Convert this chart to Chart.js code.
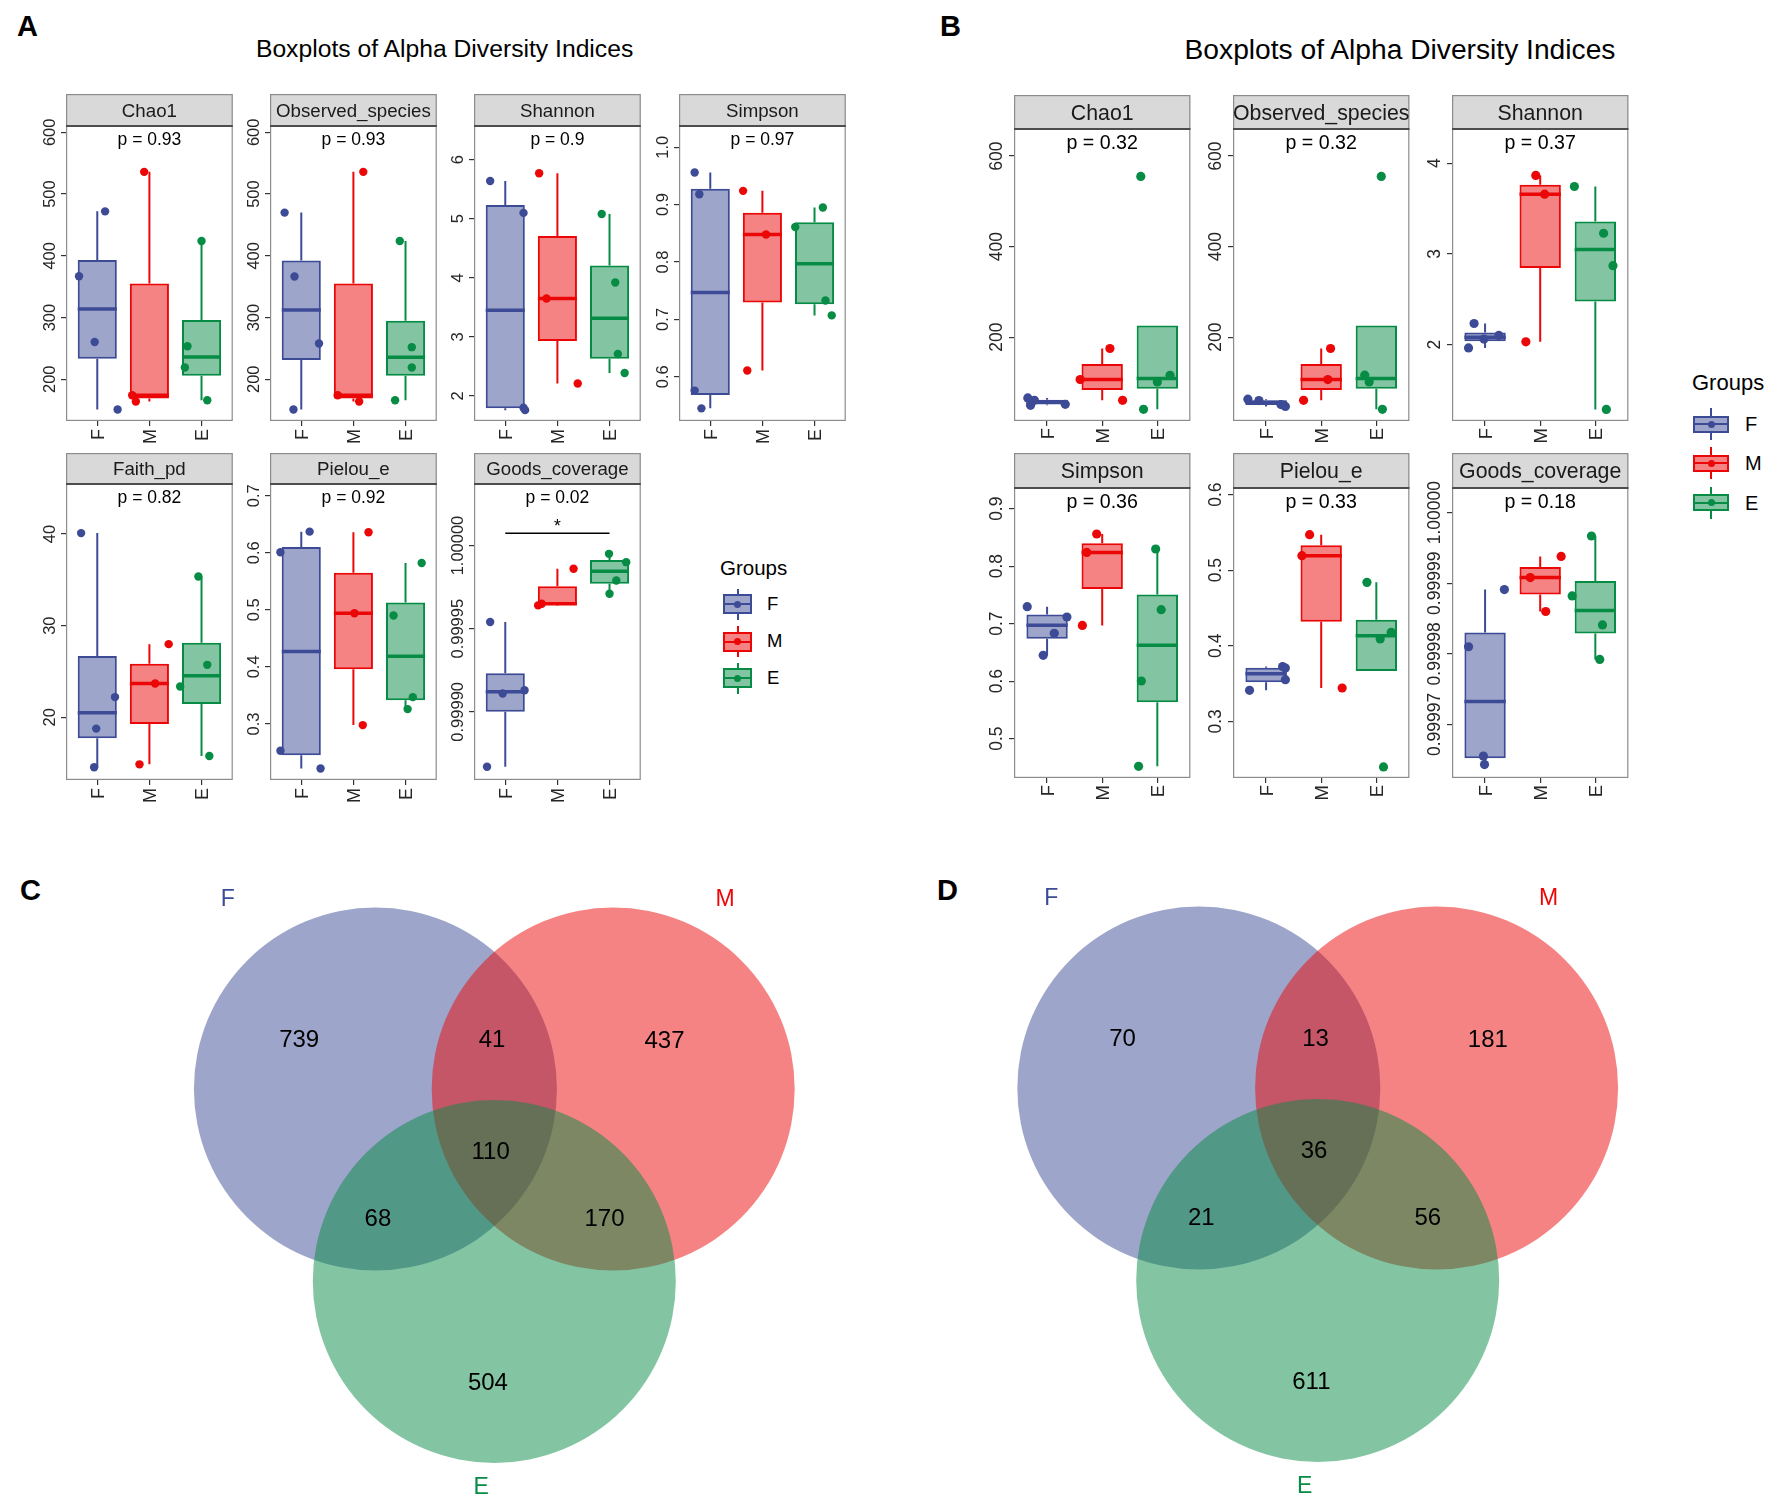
<!DOCTYPE html>
<html>
<head>
<meta charset="utf-8">
<title>Alpha diversity boxplots and Venn diagrams</title>
<script src="https://cdn.jsdelivr.net/npm/chart.js@4.4.0/dist/chart.umd.min.js"></script>
<style>
  html, body { margin: 0; padding: 0; background: #fff; }
  #page { position: relative; width: 1772px; height: 1504px; overflow: hidden; background: #fff;
          font-family: 'Liberation Sans', Arial, Helvetica, sans-serif; }
  #page canvas { position: absolute; }
  .txt { position: absolute; white-space: nowrap; }
  .key { position: absolute; box-sizing: border-box; }
</style>
</head>
<body>
<div id="page"></div>
<script>
const FONT = "'Liberation Sans', Arial, Helvetica, sans-serif";

// ---------- data ----------
const groups = ['F', 'M', 'E'];

// A
const indicesA = ['Chao1', 'Observed_species', 'Shannon', 'Simpson', 'Faith_pd', 'Pielou_e', 'Goods_coverage'];
const pValuesA = [0.93, 0.93, 0.9, 0.97, 0.82, 0.92, 0.02];

const chao1A = [[367, 472, 260.5, 151], [536, 174, 164], [424, 253.5, 219, 166]];
const chao1AJitter = [[-0.35, 0.15, -0.05, 0.39], [-0.10, -0.33, -0.26], [0.0, -0.27, -0.32, 0.11]];
const chao1ATicks = ['200', '300', '400', '500', '600'];

const observedA = [[470, 366.5, 258, 151], [536, 174, 164], [424, 252, 219, 166]];
const observedAJitter = [[-0.32, -0.13, 0.34, -0.15], [0.19, -0.30, 0.11], [-0.11, 0.12, 0.12, -0.20]];
const observedATicks = ['200', '300', '400', '500', '600'];

const shannonA = [[5.64, 5.10, 1.80, 1.76], [5.77, 3.65, 2.21], [5.08, 3.92, 2.71, 2.39]];
const shannonAJitter = [[-0.29, 0.35, 0.35, 0.38], [-0.35, -0.21, 0.39], [-0.15, 0.11, 0.16, 0.29]];
const shannonATicks = ['2', '3', '4', '5', '6'];

const simpsonA = [[0.956, 0.918, 0.576, 0.545], [0.924, 0.848, 0.611], [0.895, 0.861, 0.733, 0.707]];
const simpsonAJitter = [[-0.30, -0.21, -0.30, -0.17], [-0.37, 0.07, -0.29], [0.16, -0.37, 0.21, 0.33]];
const simpsonATicks = ['0.6', '0.7', '0.8', '0.9', '1.0'];

const faithA = [[40.1, 22.2, 18.76, 14.54], [27.98, 23.68, 14.86], [35.37, 25.72, 23.35, 15.77]];
const faithAJitter = [[-0.31, 0.34, -0.02, -0.06], [0.37, 0.11, -0.19], [-0.06, 0.11, -0.41, 0.15]];
const faithATicks = ['20', '30', '40'];

const pielouA = [[0.637, 0.601, 0.253, 0.222], [0.636, 0.494, 0.298], [0.582, 0.490, 0.347, 0.326]];
const pielouAJitter = [[0.16, -0.40, -0.40, 0.37], [0.29, 0.02, 0.18], [0.31, -0.23, 0.14, 0.04]];
const pielouATicks = ['0.3', '0.4', '0.5', '0.6', '0.7'];

const goodsA = [[0.999954, 0.999913, 0.999911, 0.999867], [0.999986, 0.999965, 0.999964], [0.999995, 0.999990, 0.999979, 0.999971]];
const goodsAJitter = [[-0.29, 0.37, -0.05, -0.35], [0.31, -0.30, -0.37], [-0.01, 0.32, 0.13, 0.0]];
const goodsATicks = ['0.99990', '0.99995', '1.00000'];
const goodsASignifLabel = '*';
const goodsASignifPair = [1, 3];
const goodsASignifY = 1.0000074;

// B
const indicesB = ['Chao1', 'Observed_species', 'Shannon', 'Simpson', 'Pielou_e', 'Goods_coverage'];
const pValuesB = [0.32, 0.32, 0.37, 0.36, 0.33, 0.18];

const chao1B = [[65.7, 60.5, 51.7, 49.4], [175, 106.3, 60.5], [555, 115.9, 101, 40.6]];
const chao1BJitter = [[-0.35, -0.23, 0.33, -0.30], [0.14, -0.40, 0.37], [-0.30, 0.23, 0.0, -0.25]];
const chao1BTicks = ['200', '400', '600'];

const observedB = [[63, 60, 51, 47], [175, 106.3, 60.5], [555, 116, 101, 40.6]];
const observedBJitter = [[-0.33, -0.13, 0.27, 0.35], [0.17, 0.12, -0.32], [0.09, -0.21, -0.13, 0.11]];
const observedBTicks = ['200', '400', '600'];

const shannonB = [[2.232, 2.10, 2.06, 1.963], [3.864, 3.657, 2.03], [3.742, 3.227, 2.869, 1.285]];
const shannonBJitter = [[-0.20, 0.25, -0.02, -0.30], [-0.08, 0.08, -0.26], [-0.38, 0.15, 0.32, 0.20]];
const shannonBTicks = ['2', '3', '4'];

const simpsonB = [[0.7296, 0.7116, 0.6832, 0.645], [0.856, 0.824, 0.697], [0.8299, 0.7243, 0.6003, 0.4519]];
const simpsonBJitter = [[-0.36, 0.36, 0.13, -0.07], [-0.10, -0.28, -0.36], [-0.03, 0.07, -0.29, -0.34]];
const simpsonBTicks = ['0.5', '0.6', '0.7', '0.8', '0.9'];

const pielouB = [[0.3725, 0.3706, 0.3551, 0.341], [0.547, 0.5192, 0.3441], [0.4839, 0.4178, 0.409, 0.2396]];
const pielouBJitter = [[0.30, 0.35, 0.35, -0.30], [-0.21, -0.35, 0.38], [-0.17, 0.27, 0.07, 0.13]];
const pielouBTicks = ['0.3', '0.4', '0.5', '0.6'];

const goodsB = [[0.9999891, 0.999981, 0.9999655, 0.9999643], [0.9999938, 0.9999908, 0.999986], [0.9999967, 0.9999882, 0.9999841, 0.9999792]];
const goodsBJitter = [[0.35, -0.30, -0.03, -0.01], [0.38, -0.18, 0.10], [-0.07, -0.42, 0.13, 0.08]];
const goodsBTicks = ['0.99997', '0.99998', '0.99999', '1.00000'];

// C and D: region counts in order F only, F&M, M only, F&M&E, F&E, M&E, E only
const vennSets = ['F', 'M', 'E'];
const vennCountsC = [739, 41, 437, 110, 68, 170, 504];
const vennCountsD = [70, 13, 181, 36, 21, 56, 611];

// ---------- style / layout ----------
const groupColors = ['#3d4b96', '#eb0707', '#078c45'];
const groupFills = ['rgba(61,75,150,0.5)', 'rgba(235,7,7,0.5)', 'rgba(7,140,69,0.5)'];

const Y_AXIS_W = 32, X_AXIS_H = 30;
const layoutA = { cols: [66, 270, 474, 679], width: 169,
  rows: [{ top: 94, strip: 32, plot: 295 }, { top: 453, strip: 31, plot: 296 }],
  stripFont: 18.7, pFont: 17.5, pOffset: 18.5, tickFont: 16.5, xFont: 18, tickGap: 6, xGap: 3, pointR: 4.2 };
const layoutB = { cols: [1014, 1233, 1452], width: 179,
  rows: [{ top: 95, strip: 34, plot: 292 }, { top: 453, strip: 35, plot: 290 }],
  stripFont: 21.3, pFont: 19.6, pOffset: 19.5, tickFont: 17.5, xFont: 18.5, tickGap: 7, xGap: 2, pointR: 4.6 };

const facetsA = [
  { name: indicesA[0], p: pValuesA[0], values: chao1A, jitter: chao1AJitter, ticks: chao1ATicks, range: [132.4, 610.3], row: 0, col: 0 },
  { name: indicesA[1], p: pValuesA[1], values: observedA, jitter: observedAJitter, ticks: observedATicks, range: [132.4, 610.3], row: 0, col: 1 },
  { name: indicesA[2], p: pValuesA[2], values: shannonA, jitter: shannonAJitter, ticks: shannonATicks, range: [1.576, 6.571], row: 0, col: 2 },
  { name: indicesA[3], p: pValuesA[3], values: simpsonA, jitter: simpsonAJitter, ticks: simpsonATicks, range: [0.523, 1.037], row: 0, col: 3 },
  { name: indicesA[4], p: pValuesA[4], values: faithA, jitter: faithAJitter, ticks: faithATicks, range: [13.15, 45.46], row: 1, col: 0 },
  { name: indicesA[5], p: pValuesA[5], values: pielouA, jitter: pielouAJitter, ticks: pielouATicks, range: [0.2018, 0.7205], row: 1, col: 1 },
  { name: indicesA[6], p: pValuesA[6], values: goodsA, jitter: goodsAJitter, ticks: goodsATicks, range: [0.999859, 1.000037], row: 1, col: 2,
    signif: { label: goodsASignifLabel, pair: goodsASignifPair, y: goodsASignifY } }
];
const facetsB = [
  { name: indicesB[0], p: pValuesB[0], values: chao1B, jitter: chao1BJitter, ticks: chao1BTicks, range: [14.8, 659.8], row: 0, col: 0 },
  { name: indicesB[1], p: pValuesB[1], values: observedB, jitter: observedBJitter, ticks: observedBTicks, range: [14.8, 659.8], row: 0, col: 1 },
  { name: indicesB[2], p: pValuesB[2], values: shannonB, jitter: shannonBJitter, ticks: shannonBTicks, range: [1.157, 4.376], row: 0, col: 2 },
  { name: indicesB[3], p: pValuesB[3], values: simpsonB, jitter: simpsonBJitter, ticks: simpsonBTicks, range: [0.4316, 0.936], row: 1, col: 0 },
  { name: indicesB[4], p: pValuesB[4], values: pielouB, jitter: pielouBJitter, ticks: pielouBTicks, range: [0.225, 0.6088], row: 1, col: 1 },
  { name: indicesB[5], p: pValuesB[5], values: goodsB, jitter: goodsBJitter, ticks: goodsBTicks, range: [0.9999624, 1.0000035], row: 1, col: 2 }
];

// venn geometry in units of the circle radius (y up), origin between F and M centres
const vennUnit = 181.5;
const vennCenters = [[-0.655, 0], [0.655, 0], [0, -1.06]];
const vennRegionPos = [[-1.075, 0.276], [-0.012, 0.276], [0.9375, 0.271], [-0.02, -0.339], [-0.641, -0.709], [0.607, -0.709], [-0.035, -1.612]];
const vennSetPos = [[-1.468, 1.055], [1.272, 1.055], [-0.072, -2.187]];
const vennPanels = [
  { counts: vennCountsC, left: 0, top: 860, width: 886, height: 644, ox: 494.3, oy: 229 },
  { counts: vennCountsD, left: 886, top: 860, width: 886, height: 644, ox: 431.7, oy: 228 }
];

const page = document.getElementById('page');

// ---------- helpers ----------
function makeCanvas(left, top, w, h) {
  const cv = document.createElement('canvas');
  cv.width = w; cv.height = h;
  cv.style.left = left + 'px'; cv.style.top = top + 'px';
  cv.style.width = w + 'px'; cv.style.height = h + 'px';
  page.appendChild(cv);
  return cv;
}

function addText(str, x, baseline, size, opt = {}) {
  const d = document.createElement('div');
  d.className = 'txt';
  d.textContent = str;
  d.style.fontSize = size + 'px';
  d.style.lineHeight = size + 'px';
  d.style.top = (baseline - 0.8465 * size) + 'px';
  d.style.left = x + 'px';
  if (opt.center) d.style.transform = 'translateX(-50%)';
  if (opt.bold) d.style.fontWeight = 'bold';
  d.style.color = opt.color || '#000';
  page.appendChild(d);
  return d;
}

function addRect(x, y, w, h, bg) {
  const d = document.createElement('div');
  d.className = 'key';
  d.style.left = x + 'px'; d.style.top = y + 'px';
  d.style.width = w + 'px'; d.style.height = h + 'px';
  d.style.background = bg;
  page.appendChild(d);
  return d;
}

// quantile type 7 (R default)
function quantile(sorted, p) {
  const h = (sorted.length - 1) * p;
  const lo = Math.floor(h), hi = Math.min(lo + 1, sorted.length - 1);
  return sorted[lo] + (h - lo) * (sorted[hi] - sorted[lo]);
}

function boxStats(vals) {
  const s = [...vals].sort((a, b) => a - b);
  const q1 = quantile(s, 0.25), med = quantile(s, 0.5), q3 = quantile(s, 0.75);
  const iqr = q3 - q1;
  const inside = s.filter(v => v >= q1 - 1.5 * iqr && v <= q3 + 1.5 * iqr);
  return { q1, med, q3, lo: Math.min(inside[0], q1), hi: Math.max(inside[inside.length - 1], q3) };
}

function boxDatasets(values, jitter, pl) {
  const sets = [];
  values.forEach((vals, g) => {
    const x = g + 1, st = boxStats(vals);
    // whiskers
    sets.push({ type: 'line', data: [{ x, y: st.hi }, { x, y: st.q3 }, { x, y: null }, { x, y: st.q1 }, { x, y: st.lo }],
      borderColor: groupColors[g], borderWidth: 2, pointRadius: 0, spanGaps: false, order: 4 });
    // box
    sets.push({ type: 'bar', data: [{ x, y: [st.q1, st.q3] }], backgroundColor: groupFills[g], borderColor: groupColors[g],
      borderWidth: 2, borderSkipped: false, grouped: false, categoryPercentage: 1, barPercentage: 0.75, order: 3 });
    // median
    sets.push({ type: 'line', data: [{ x: x - 0.375, y: st.med }, { x: x + 0.375, y: st.med }],
      borderColor: groupColors[g], borderWidth: 3.5, pointRadius: 0, order: 2 });
    // jittered samples
    sets.push({ type: 'scatter', data: vals.map((v, i) => ({ x: x + jitter[g][i], y: v })),
      backgroundColor: groupColors[g], borderWidth: 0, pointRadius: pl.pointR, order: 1 });
  });
  return sets;
}

function drawFacetDecor(chart, pl, f) {
  const { ctx, chartArea: a } = chart;
  const xs = chart.scales.x, ys = chart.scales.y;
  const sh = pl.rows[f.row].strip;
  const w = a.right - a.left, h = a.bottom - a.top;
  ctx.save();
  // strip + panel border
  ctx.fillStyle = '#d9d9d9';
  ctx.fillRect(a.left, a.top - sh, w, sh);
  ctx.strokeStyle = '#8c8c8c';
  ctx.lineWidth = 1.2;
  ctx.strokeRect(a.left + 0.6, a.top - sh + 0.6, w - 1.2, sh - 0.6);
  ctx.strokeRect(a.left + 0.6, a.top, w - 1.2, h - 0.6);
  ctx.strokeStyle = '#4d4d4d';
  ctx.lineWidth = 2;
  ctx.beginPath(); ctx.moveTo(a.left, a.top); ctx.lineTo(a.right, a.top); ctx.stroke();

  ctx.textAlign = 'center';
  ctx.textBaseline = 'alphabetic';
  ctx.fillStyle = '#1a1a1a';
  ctx.font = `${pl.stripFont}px ${FONT}`;
  ctx.fillText(f.name, (a.left + a.right) / 2, a.top - sh / 2 + 0.358 * pl.stripFont);

  ctx.fillStyle = '#000';
  ctx.font = `${pl.pFont}px ${FONT}`;
  ctx.fillText('p = ' + f.p, xs.getPixelForValue(2), a.top + pl.pOffset);

  // tick labels, rotated 90 degrees
  ctx.fillStyle = '#262626';
  ctx.font = `${pl.tickFont}px ${FONT}`;
  const shift = 0.358 * pl.tickFont;
  ys.ticks.forEach((t, i) => {
    ctx.save();
    ctx.translate(a.left - 5 - pl.tickGap - shift, ys.getPixelForValue(t.value));
    ctx.rotate(-Math.PI / 2);
    ctx.textAlign = 'center';
    ctx.fillText(f.ticks[i], 0, shift);
    ctx.restore();
  });
  ctx.font = `${pl.xFont}px ${FONT}`;
  const xShift = 0.358 * pl.xFont;
  xs.ticks.forEach((t, i) => {
    ctx.save();
    ctx.translate(xs.getPixelForValue(t.value), a.bottom + 5 + pl.xGap);
    ctx.rotate(-Math.PI / 2);
    ctx.textAlign = 'right';
    ctx.fillText(groups[i], 0, xShift);
    ctx.restore();
  });

  if (f.signif) {
    const y = ys.getPixelForValue(f.signif.y);
    ctx.strokeStyle = '#000';
    ctx.lineWidth = 1.6;
    ctx.beginPath();
    ctx.moveTo(xs.getPixelForValue(f.signif.pair[0]), y);
    ctx.lineTo(xs.getPixelForValue(f.signif.pair[1]), y);
    ctx.stroke();
    ctx.fillStyle = '#000';
    ctx.font = `${pl.pFont}px ${FONT}`;
    ctx.textAlign = 'center';
    ctx.fillText(f.signif.label, xs.getPixelForValue((f.signif.pair[0] + f.signif.pair[1]) / 2), y - 1);
  }
  ctx.restore();
}

function createFacet(pl, f) {
  const row = pl.rows[f.row];
  const left = pl.cols[f.col];
  const cw = Y_AXIS_W + pl.width + 2;
  const ch = row.strip + row.plot + X_AXIS_H;
  const cv = makeCanvas(left - Y_AXIS_W, row.top, cw, ch);
  const tickValues = f.ticks.map(Number);
  const tickStyle = { drawOnChartArea: false, offset: false, tickLength: 5, color: '#333333', lineWidth: 1.2 };
  new Chart(cv, {
    type: 'bar',
    data: { datasets: boxDatasets(f.values, f.jitter, pl) },
    options: {
      responsive: false, animation: false, events: [],
      layout: { padding: { top: row.strip, right: 2, left: 0, bottom: 0 } },
      plugins: { legend: { display: false }, tooltip: { enabled: false } },
      scales: {
        x: { type: 'linear', min: 0.4, max: 3.6, offset: false,
             afterBuildTicks: s => { s.ticks = groups.map((g, i) => ({ value: i + 1 })); },
             afterFit: s => { s.height = X_AXIS_H; },
             ticks: { display: false, autoSkip: false },
             grid: tickStyle, border: { display: false } },
        y: { type: 'linear', min: f.range[0], max: f.range[1], beginAtZero: false,
             afterBuildTicks: s => { s.ticks = tickValues.map(v => ({ value: v })); },
             afterFit: s => { s.width = Y_AXIS_W; },
             ticks: { display: false },
             grid: tickStyle, border: { display: false } }
      }
    },
    plugins: [{ id: 'facetDecor', afterDraw: chart => drawFacetDecor(chart, pl, f) }]
  });
}

function createVenn(vp) {
  const cv = makeCanvas(vp.left, vp.top, vp.width, vp.height);
  const u = vennUnit;
  const unitPx = ctx => {
    const xs = ctx.chart.scales.x;
    return Math.abs(xs.getPixelForValue(1) - xs.getPixelForValue(0));
  };
  new Chart(cv, {
    type: 'scatter',
    data: {
      datasets: vennSets.map((s, i) => ({
        label: s,
        data: [{ x: vennCenters[i][0], y: vennCenters[i][1] }],
        backgroundColor: groupFills[i], borderWidth: 0,
        pointRadius: unitPx, pointHoverRadius: unitPx,
        order: 3 - i
      }))
    },
    options: {
      responsive: false, animation: false, events: [],
      layout: { padding: 0 },
      plugins: { legend: { display: false }, tooltip: { enabled: false } },
      scales: {
        x: { type: 'linear', display: false, min: -vp.ox / u, max: (vp.width - vp.ox) / u },
        y: { type: 'linear', display: false, min: -(vp.height - vp.oy) / u, max: vp.oy / u }
      }
    },
    plugins: [{
      id: 'vennText',
      afterDatasetsDraw(chart) {
        const { ctx } = chart;
        const xs = chart.scales.x, ys = chart.scales.y;
        ctx.save();
        ctx.textAlign = 'center';
        ctx.textBaseline = 'alphabetic';
        ctx.font = `24px ${FONT}`;
        ctx.fillStyle = '#000';
        vp.counts.forEach((c, i) => {
          ctx.fillText(String(c), xs.getPixelForValue(vennRegionPos[i][0]), ys.getPixelForValue(vennRegionPos[i][1]) + 0.358 * 24);
        });
        ctx.font = `23px ${FONT}`;
        vennSets.forEach((s, i) => {
          ctx.fillStyle = groupColors[i];
          ctx.fillText(s, xs.getPixelForValue(vennSetPos[i][0]), ys.getPixelForValue(vennSetPos[i][1]) + 0.358 * 23);
        });
        ctx.restore();
      }
    }]
  });
}

function addLegend(lg) {
  addText('Groups', lg.titleX, lg.titleBase, lg.titleFont);
  groups.forEach((g, i) => {
    const cy = lg.keyCenters[i], col = groupColors[i];
    const cx = lg.x + lg.keyW / 2;
    addRect(cx - 1, cy - lg.whisker, 2, lg.whisker - lg.keyH / 2, col);
    addRect(cx - 1, cy + lg.keyH / 2, 2, lg.whisker - lg.keyH / 2, col);
    const box = addRect(lg.x, cy - lg.keyH / 2, lg.keyW, lg.keyH, groupFills[i]);
    box.style.border = `2px solid ${col}`;
    addRect(lg.x, cy - 1, lg.keyW, 2, col);
    const dot = addRect(cx - 3.5, cy - 3.5, 7, 7, col);
    dot.style.borderRadius = '50%';
    addText(g, lg.labelX, cy + 0.358 * lg.labelFont, lg.labelFont);
  });
}

// ---------- build ----------
Chart.defaults.font.family = FONT;

addText('A', 17, 37, 29, { bold: true });
addText('B', 940, 37, 29, { bold: true });
addText('C', 20, 901, 29, { bold: true });
addText('D', 937, 901, 29, { bold: true });
addText('Boxplots of Alpha Diversity Indices', 444.6, 58, 24.7, { center: true });
addText('Boxplots of Alpha Diversity Indices', 1400, 58.5, 28.2, { center: true });

facetsA.forEach(f => createFacet(layoutA, f));
facetsB.forEach(f => createFacet(layoutB, f));

addLegend({ titleX: 720, x: 723, titleBase: 575, titleFont: 20.5, keyCenters: [604.3, 641.5, 678.3],
            keyW: 29, keyH: 20, whisker: 15.5, labelX: 767, labelFont: 18.5 });
addLegend({ titleX: 1692, x: 1693, titleBase: 391, titleFont: 22, keyCenters: [424.2, 463, 502.5],
            keyW: 36, keyH: 17, whisker: 16, labelX: 1745, labelFont: 20 });

vennPanels.forEach(createVenn);
</script>
</body>
</html>
